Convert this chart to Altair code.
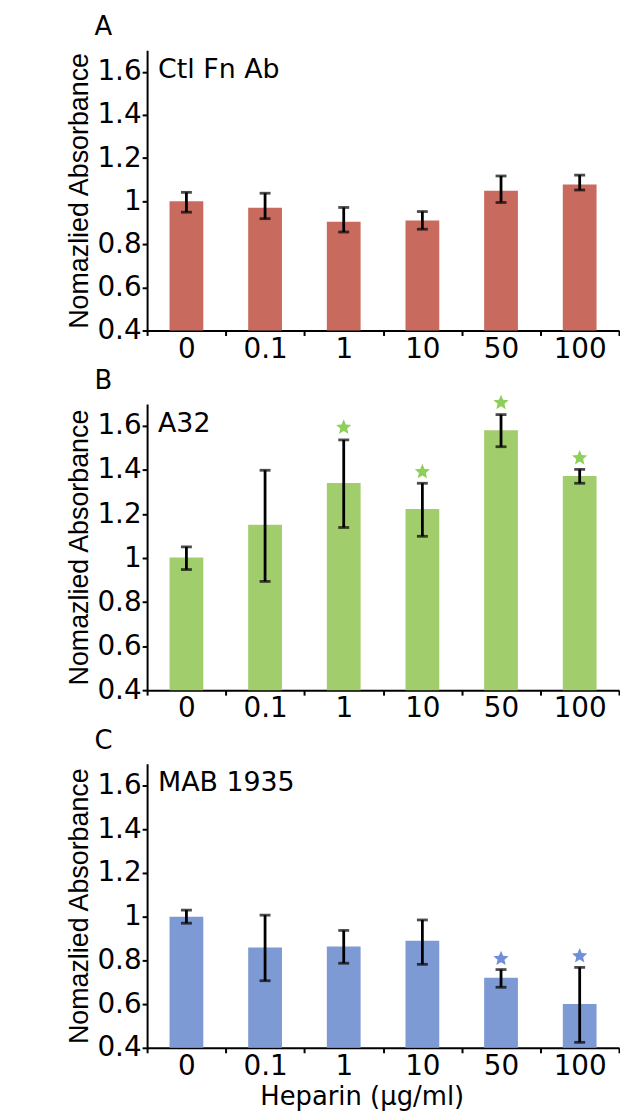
import altair as alt
import pandas as pd

categories = ["0", "0.1", "1", "10", "50", "100"]

a_mean = [1.0, 0.97, 0.905, 0.911, 1.049, 1.078]
a_low = [0.949, 0.919, 0.857, 0.87, 0.994, 1.052]
a_high = [1.041, 1.037, 0.971, 0.952, 1.117, 1.121]

b_mean = [1.003, 1.151, 1.341, 1.223, 1.581, 1.373]
b_low = [0.948, 0.894, 1.139, 1.099, 1.506, 1.34]
b_high = [1.051, 1.399, 1.537, 1.34, 1.652, 1.403]

c_mean = [1.0, 0.859, 0.863, 0.89, 0.721, 0.6]
c_low = [0.97, 0.707, 0.787, 0.782, 0.677, 0.425]
c_high = [1.03, 1.007, 0.937, 0.985, 0.758, 0.768]

b_star_cats = ["1", "10", "50", "100"]
b_star_y = [1.594, 1.392, 1.706, 1.455]
c_star_cats = ["50", "100"]
c_star_y = [0.808, 0.82]

y_ticks = [0.4, 0.6, 0.8, 1.0, 1.2, 1.4, 1.6]

TICK_FONT = "DejaVu Sans"
STAR_PATH = ("M0,-1L0.2645,-0.364L0.951,-0.309L0.428,0.139L0.588,0.809"
             "L0,0.45L-0.588,0.809L-0.428,0.139L-0.951,-0.309L-0.2645,-0.364Z")


def panel(mean, low, high, color, letter, label, height,
          star_cats=None, star_y=None, star_color=None, show_xtitle=False):
    df = pd.DataFrame({"dose": categories, "mean": mean, "low": low, "high": high})
    if show_xtitle:
        xaxis = alt.Axis(
            title="Heparin (μg/ml)",
            tickBand="extent", labelAngle=0, labelPadding=0, tickSize=5,
            titleFont=TICK_FONT, titleFontSize=26, titleFontWeight="normal",
            titleColor="black", titleX=216, titlePadding=3,
        )
    else:
        xaxis = alt.Axis(title=None, tickBand="extent", labelAngle=0,
                         labelPadding=0, tickSize=5)
    x = alt.X("dose:N", sort=categories,
              scale=alt.Scale(domain=categories, paddingInner=0, paddingOuter=0),
              axis=xaxis)
    yscale = alt.Scale(domain=[0.4, 1.7], nice=False, zero=False)
    yaxis = alt.Axis(values=y_ticks, format="~g", title="Nomazlied Absorbance",
                     titleFont="Liberation Sans", titleFontSize=27,
                     titleFontWeight="normal", titleColor="black",
                     titlePadding=3, labelPadding=1, tickSize=5)
    base = alt.Chart(df)
    bars = base.mark_bar(size=34, color=color).encode(
        x=x, y=alt.Y("mean:Q", scale=yscale, axis=yaxis), y2=alt.datum(0.4))
    rules = base.mark_rule(color="black", strokeWidth=2.8).encode(
        x=x, y=alt.Y("low:Q", scale=yscale), y2="high:Q")
    cap_lo = base.mark_tick(color="black", size=11, thickness=2.8).encode(
        x=x, y=alt.Y("low:Q", scale=yscale))
    cap_hi = base.mark_tick(color="black", size=11, thickness=2.8).encode(
        x=x, y=alt.Y("high:Q", scale=yscale))
    layers = [bars, rules, cap_lo, cap_hi]
    if star_cats:
        sdf = pd.DataFrame({"dose": star_cats, "v": star_y})
        stars = alt.Chart(sdf).mark_point(shape=STAR_PATH, filled=True, size=260,
                                          color=star_color, opacity=1).encode(
            x=x, y=alt.Y("v:Q", scale=yscale))
        layers.append(stars)
    letter_t = alt.Chart(pd.DataFrame({"t": [letter]})).mark_text(
        align="left", baseline="alphabetic", fontSize=26, font=TICK_FONT, color="black"
    ).encode(x=alt.value(-53), y=alt.value(-15), text="t:N")
    label_t = alt.Chart(pd.DataFrame({"t": [label]})).mark_text(
        align="left", baseline="alphabetic", fontSize=27, font=TICK_FONT, color="black"
    ).encode(x=alt.value(11), y=alt.value(28), text="t:N")
    layers += [letter_t, label_t]
    return alt.layer(*layers).properties(width=475, height=height)


pa = panel(a_mean, a_low, a_high, "#C86B5E", "A", "Ctl Fn Ab", 282)
pb = panel(b_mean, b_low, b_high, "#A2CD6C", "B", "A32", 288,
           b_star_cats, b_star_y, "#8DCF58")
pc = panel(c_mean, c_low, c_high, "#7E9AD4", "C", "MAB 1935", 286,
           c_star_cats, c_star_y, "#6F8FD8", show_xtitle=True)

chart = alt.vconcat(pa, pb, pc, spacing=5).properties(
    padding={"left": 58, "top": 3, "right": 0, "bottom": 0}
).configure_view(stroke=None).configure_axis(
    domainColor="black", domainWidth=2, tickColor="black", tickWidth=2,
    labelFont=TICK_FONT, labelFontSize=28, labelColor="black", grid=False,
)

chart.save("out.html", embed_options={"renderer": "svg", "actions": False})
